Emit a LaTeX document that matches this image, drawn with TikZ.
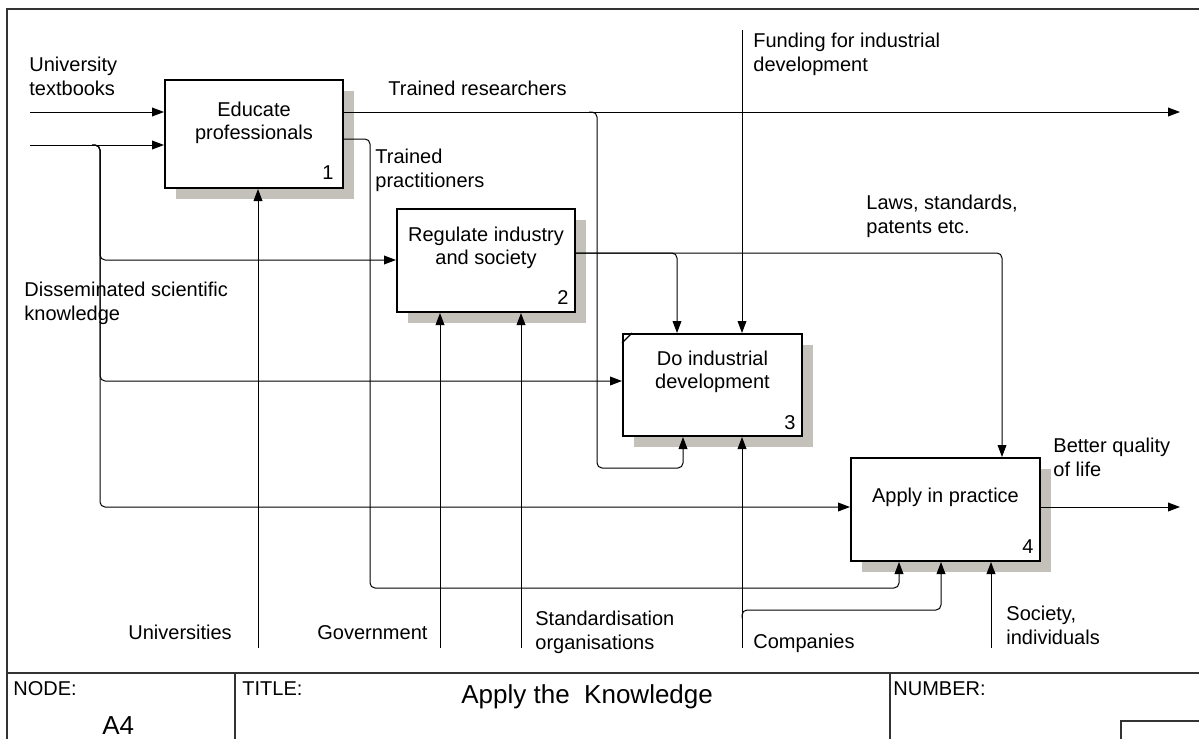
\documentclass[tikz,border=0pt]{standalone}
\usepackage{fontspec}
\setmainfont{Liberation Sans}
\usetikzlibrary{shadows,positioning,calc,arrows.meta}
\definecolor{shadegray}{RGB}{196,193,186}

\begin{document}
\begin{tikzpicture}[x=0.5pt,y=-0.5pt,font=\fontsize{10}{12}\selectfont]
		\tikzstyle{func_box}=[draw, line width=1pt, fill=white, inner sep=0, general shadow={fill=shadegray, shadow xshift=5.5pt, shadow yshift=-5.5pt}];
		\tikzstyle{flow}=[draw, line width=0.5pt, rounded corners=2.5pt, -{Triangle[length=6pt,width=4.4pt]}];
		\tikzstyle{box_text}=[anchor=north, align=center, inner sep=0, font=\fontsize{10}{11.5}\selectfont];
		\tikzstyle{box_num}=[anchor=base east, inner sep=0];
		\tikzstyle{arrow_label}=[anchor=north west, align=left, inner sep=0];
		\tikzstyle{frame}=[line width=0.7pt, draw=black!80];

		\useasboundingbox (0,0) rectangle (1199,739);

		% frame and title block
		\draw[frame] (7,739) -- (7,9) -- (1199,9);
		\draw[frame] (7,673) -- (1199,673);
		\draw[frame] (235,673) -- (235,739);
		\draw[frame] (890,673) -- (890,739);
		\draw[frame] (1121,739) -- (1121,721) -- (1199,721);
		\node[arrow_label] (node_lbl) at (13,681) {NODE:};
		\node[arrow_label, font=\fontsize{13}{15}\selectfont] (node_val) at (102,716) {A4};
		\node[arrow_label] (title_lbl) at (242,681) {TITLE:};
		\node[arrow_label, font=\fontsize{13}{15}\selectfont] (title_val) at (461,684) {Apply the~ Knowledge};
		\node[arrow_label] (number_lbl) at (893,681) {NUMBER:};

		% activities
		\node[func_box, minimum width=89pt, minimum height=54pt] (educate) at (254,134) {};
		\node[func_box, minimum width=89pt, minimum height=51.5pt] (regulate) at (486,260.5) {};
		\node[func_box, minimum width=89.5pt, minimum height=51pt] (develop) at (712.5,385) {};
		\node[func_box, minimum width=94.5pt, minimum height=51.5pt] (apply) at (945.5,509.5) {};
		\draw[line width=0.6pt] ($(develop.north west)+(0,10)$) -- ($(develop.north west)+(10,0)$);

		\node[box_text, below=11.5pt of educate.north] (educate_t) {Educate\\professionals};
		\node[box_text, below=9.5pt of regulate.north] (regulate_t) {Regulate industry\\and society};
		\node[box_text, below=9pt of develop.north] (develop_t) {Do industrial\\development};
		\node[box_text, below=15.5pt of apply.north] (apply_t) {Apply in practice};

		\node[box_num] (educate_n) at ($(educate.south east)+(-10,-10)$) {1};
		\node[box_num] (regulate_n) at ($(regulate.south east)+(-7,-9)$) {2};
		\node[box_num] (develop_n) at ($(develop.south east)+(-7,-8)$) {3};
		\node[box_num] (apply_n) at ($(apply.south east)+(-7,-9)$) {4};

		% inputs
		\coordinate (textbooks) at (30,112);
		\coordinate (science) at (30,145);
		\coordinate (science_split) at (100,145);
		\draw[flow] (textbooks) -- (textbooks -| educate.west);
		\draw[flow] (science) -- (science -| educate.west);
		\draw[flow] (science_split) ++(-8,0) -- (science_split) |- (regulate.west |- 0,260);
		\draw[flow] (science_split) ++(-8,0) -- (science_split) |- (develop.west |- 0,381);
		\draw[flow] (science_split) ++(-8,0) -- (science_split) |- (apply.west |- 0,507);
		\node[arrow_label] (textbooks_l) at (29,57) {University\\textbooks};
		\node[arrow_label] (science_l) at (24,282) {Disseminated scientific\\knowledge};

		% outputs
		\coordinate (researchers) at (1180,112);
		\coordinate (researchers_split) at (597,112);
		\draw[flow] (researchers -| educate.east) -- (researchers);
		\draw[flow] (researchers_split) ++(-8,0) -- (researchers_split) -- (597,468) -| (develop.south -| 683,0);
		\draw[flow] (educate.east |- 0,139) -| (370,588) -| (apply.south -| 899,0);
		\draw[flow] (regulate.east |- 0,253) -| (develop.north -| 677,0);
		\draw[flow] (regulate.east |- 0,253) -| (apply.north -| 1002,0);
		\coordinate (quality) at (1180,507);
		\draw[flow] (quality -| apply.east) -- (quality);
		\node[arrow_label] (researchers_l) at (388,81) {Trained researchers};
		\node[arrow_label] (practitioners_l) at (375,149) {Trained\\practitioners};
		\node[arrow_label] (laws_l) at (866,195) {Laws, standards,\\patents etc.};
		\node[arrow_label] (quality_l) at (1053,438) {Better quality\\of life};

		% controls
		\coordinate (funding) at (742,30);
		\draw[flow] (funding) -- (funding |- develop.north);
		\node[arrow_label] (funding_l) at (753,33) {Funding for industrial\\development};

		% mechanisms
		\coordinate (universities) at (258,648);
		\coordinate (government) at (440,648);
		\coordinate (standards) at (521,648);
		\coordinate (companies) at (742,648);
		\coordinate (society) at (991,648);
		\draw[flow] (universities) -- (universities |- educate.south);
		\draw[flow] (government) -- (government |- regulate.south);
		\draw[flow] (standards) -- (standards |- regulate.south);
		\draw[flow] (companies) -- (companies |- develop.south);
		\draw[flow] (companies) ++(0,-30) -- (742,610) -| (apply.south -| 941,0);
		\draw[flow] (society) -- (society |- apply.south);
		\node[arrow_label] (universities_l) at (128,625) {Universities};
		\node[arrow_label] (government_l) at (317,625) {Government};
		\node[arrow_label] (standards_l) at (535,611) {Standardisation\\organisations};
		\node[arrow_label] (companies_l) at (753,634) {Companies};
		\node[arrow_label] (society_l) at (1006,606) {Society,\\individuals};

	\end{tikzpicture}
\end{document}
